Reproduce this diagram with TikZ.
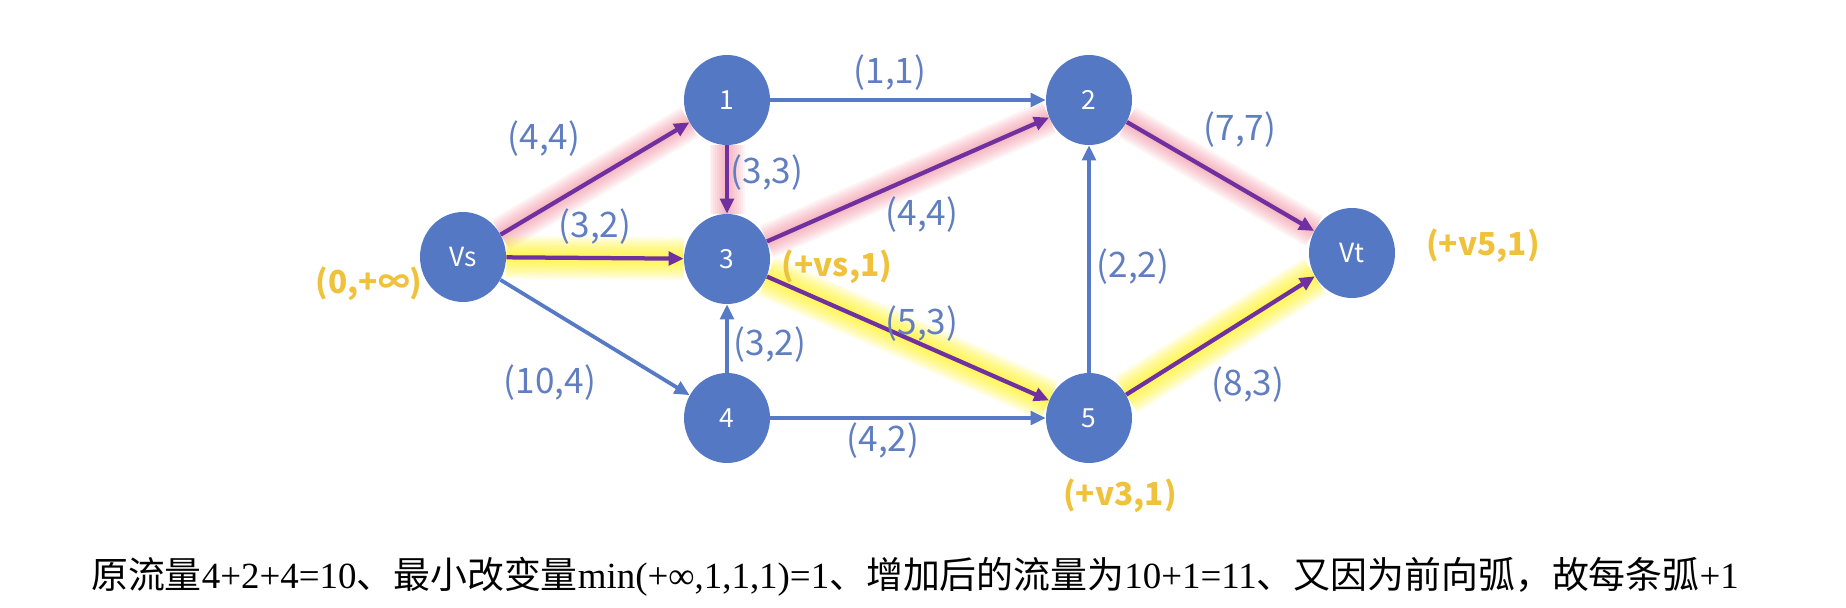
\documentclass[tikz,border=0pt]{standalone}
\usepackage{fontspec}
\usepackage{tikz}
\usetikzlibrary{arrows.meta,shapes.geometric}
\newfontfamily\cjk{Noto Sans CJK SC}
\newfontfamily\serifnum{Liberation Serif}
\definecolor{nodeblue}{RGB}{84,120,196}
\definecolor{lineblue}{RGB}{86,122,198}
\definecolor{textblue}{RGB}{96,126,192}
\definecolor{flowpurple}{RGB}{112,48,160}
\definecolor{labelgold}{RGB}{240,194,60}
\definecolor{glowpink}{RGB}{235,110,130}
\definecolor{glowyellow}{RGB}{255,240,0}
% glow under a flow arc: from, to, colour, layer opacity, widest width
\newcommand{\glowline}[5]{
	\foreach \k in {1,...,9}
		\draw[#3, line width=\k*#5/9, opacity=#4] (#1) -- (#2);
}

\begin{document}
\begin{tikzpicture}[x=0.02cm,y=-0.02cm,
	vertex/.style={ellipse, fill=nodeblue, text=white, minimum width=1.72cm, minimum height=1.80cm, inner sep=0pt, font=\cjk\fontsize{15}{17}\selectfont},
	plain/.style={draw=lineblue, line width=0.075cm, -{Triangle[length=0.3cm,width=0.27cm]}},
	flow/.style={draw=flowpurple, line width=0.085cm, -{Triangle[length=0.3cm,width=0.27cm]}},
	edgelabel/.style={text=textblue, font=\cjk\fontsize{20}{22}\selectfont, inner sep=0pt},
	goldmark/.style={text=labelgold, font=\cjk\bfseries\fontsize{18}{20}\selectfont, inner sep=0pt}]
	\useasboundingbox (0,0) rectangle (1846,608);

	\node[vertex] (vs) at (463,257) {Vs};
	\node[vertex] (n1) at (727,100) {1};
	\node[vertex] (n2) at (1089,100) {2};
	\node[vertex] (n3) at (727,259) {3};
	\node[vertex] (n4) at (727,418) {4};
	\node[vertex] (n5) at (1089,418) {5};
	\node[vertex] (vt) at (1352,253) {Vt};

	\glowline{vs}{n1}{glowpink}{0.075}{0.7cm}
	\glowline{n1}{n3}{glowpink}{0.075}{0.7cm}
	\glowline{n3}{n2}{glowpink}{0.075}{0.7cm}
	\glowline{n2}{vt}{glowpink}{0.075}{0.7cm}
	\glowline{vs}{n3}{glowyellow}{0.11}{0.85cm}
	\glowline{n3}{n5}{glowyellow}{0.11}{0.85cm}
	\glowline{n5}{vt}{glowyellow}{0.11}{0.85cm}

	\draw[plain] (vs) -- (n4);
	\draw[plain] (n1) -- (n2);
	\draw[plain] (n4) -- (n3);
	\draw[plain] (n4) -- (n5);
	\draw[plain] (n5) -- (n2);
	\draw[flow] (vs) -- (n1);
	\draw[flow] (vs) -- (n3);
	\draw[flow] (n1) -- (n3);
	\draw[flow] (n3) -- (n2);
	\draw[flow] (n3) -- (n5);
	\draw[flow] (n2) -- (vt);
	\draw[flow] (n5) -- (vt);

	\node[edgelabel] (c-s1) at (544,139) {(4,4)};
	\node[edgelabel] (c-s3) at (595,227) {(3,2)};
	\node[edgelabel] (c-s4) at (550,383) {(10,4)};
	\node[edgelabel] (c-12) at (890,73) {(1,1)};
	\node[edgelabel] (c-13) at (767,173) {(3,3)};
	\node[edgelabel] (c-32) at (922,215) {(4,4)};
	\node[edgelabel] (c-35) at (922,324) {(5,3)};
	\node[edgelabel] (c-43) at (770,345) {(3,2)};
	\node[edgelabel] (c-45) at (883,441) {(4,2)};
	\node[edgelabel] (c-52) at (1133,267) {(2,2)};
	\node[edgelabel] (c-2t) at (1240,130) {(7,7)};
	\node[edgelabel] (c-5t) at (1248,385) {(8,3)};

	\node[goldmark] (m-vs) at (369,284) {(0,+∞)};
	\node[goldmark] (m-n3) at (837,267) {(+vs,1)};
	\node[goldmark] (m-vt) at (1483,246) {(+v5,1)};
	\node[goldmark] (m-n5) at (1120,496) {(+v3,1)};

	\node[inner sep=0pt, font=\serifnum\fontsize{21}{24}\selectfont] (note) at (915,577)
		{{\cjk 原流量}4+2+4=10{\cjk 、最小改变量}min(+∞,1,1,1)=1{\cjk 、增加后的流量为}10+1=11{\cjk 、又因为前向弧，故每条弧}+1};
\end{tikzpicture}
\end{document}
